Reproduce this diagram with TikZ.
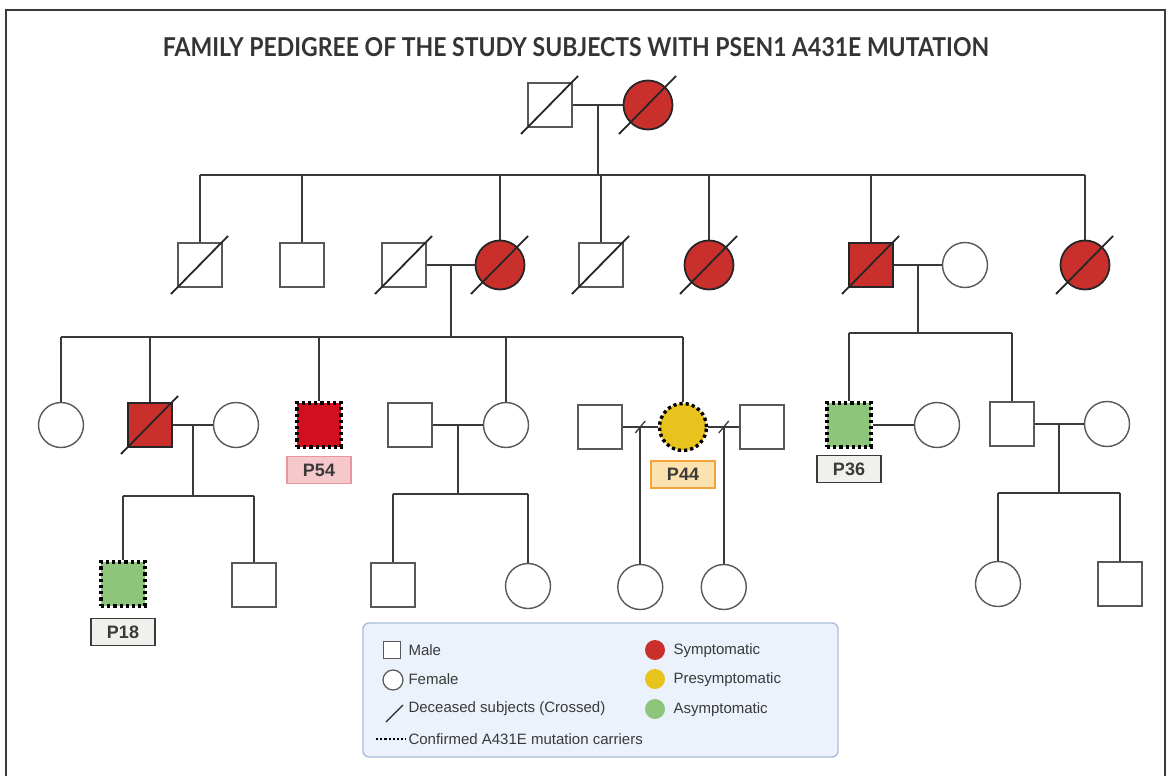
\documentclass[tikz,border=0pt]{standalone}
\usepackage{fontspec}
\setmainfont{Liberation Sans}
\newfontfamily\titlefont{Lato}
\usepackage{graphicx}
\usetikzlibrary{positioning,calc}

\definecolor{symred}{HTML}{C9302C}
\definecolor{carred}{HTML}{D20F1F}
\definecolor{preyel}{HTML}{E9C31D}
\definecolor{asygrn}{HTML}{8DC57A}
\definecolor{inkgray}{HTML}{3A3A3A}
\definecolor{legbg}{HTML}{EBF2FB}
\definecolor{legbd}{HTML}{A7BDDB}
\definecolor{pinkbg}{HTML}{F6C8CB}
\definecolor{pinkbd}{HTML}{E8959C}
\definecolor{ambbg}{HTML}{FBE2AE}
\definecolor{ambbd}{HTML}{F0A43A}
\definecolor{graybg}{HTML}{F0F0EC}

\tikzset{
  male/.style={rectangle, draw=inkgray!85, line width=1.4pt, fill=white, minimum size=44pt, inner sep=0pt},
  female/.style={circle, draw=inkgray!85, line width=1.4pt, fill=white, minimum size=45pt, inner sep=0pt},
  affected/.style={fill=symred, draw=black!85, line width=1.8pt},
  femaff/.style={female, affected, minimum size=49pt},
  carrier/.style={draw=black, line width=3.4pt, dash pattern=on 3.2pt off 3pt},
  kin/.style={draw=inkgray, line width=1.8pt},
  slashline/.style={draw=black!85, line width=1.8pt},
  idtag/.style={font=\bfseries\fontsize{18}{18}\selectfont, text=inkgray, minimum width=64pt, minimum height=27pt, inner sep=0pt, line width=1.6pt},
  legtext/.style={font=\fontsize{15}{15}\selectfont, text=inkgray, anchor=west},
  legdot/.style={circle, minimum size=20pt, inner sep=0pt},
}

\begin{document}
\begin{tikzpicture}[x=1pt,y=-1pt]
\useasboundingbox (0,0) rectangle (1170,776);
\draw[line width=1.6pt, inkgray] (6,790) |- (1165,10) -- (1165,790);
\node[text=inkgray!90!black, inner sep=0pt] (title) at (576,47)
  {\resizebox{826pt}{19pt}{\titlefont\bfseries FAMILY PEDIGREE OF THE STUDY SUBJECTS WITH PSEN1 A431E MUTATION}};

% generation I
\node[male] (I1) at (550,105) {};
\node[femaff] (I2) at (648,105) {};

% generation II
\node[male] (II1) at (200,265) {};
\node[male] (II2) at (302,265) {};
\node[male] (II3) at (404,265) {};
\node[femaff] (II4) at (500,265) {};
\node[male] (II5) at (601,265) {};
\node[femaff] (II6) at (709,265) {};
\node[male,affected] (II7) at (871,265) {};
\node[female] (II8) at (965,265) {};
\node[femaff] (II9) at (1085,265) {};

% generation III
\node[female] (III1) at (61,425) {};
\node[male,affected] (III2) at (150,425) {};
\node[female] (III3) at (236,425) {};
\node[male,carrier,fill=carred] (III4) at (319,425) {};
\node[male] (III5) at (410,425) {};
\node[female] (III6) at (506,425) {};
\node[male] (III7) at (600,427) {};
\node[female,carrier,fill=preyel,minimum size=47pt] (III8) at (683,427) {};
\node[male] (III9) at (762,427) {};
\node[male,carrier,fill=asygrn] (III10) at (849,425) {};
\node[female] (III11) at (937,425) {};
\node[male] (III12) at (1012,424) {};
\node[female] (III13) at (1107,424) {};

% generation IV
\node[male,carrier,fill=asygrn] (IV1) at (123,584) {};
\node[male] (IV2) at (254,585) {};
\node[male] (IV3) at (393,585) {};
\node[female] (IV4) at (528,586) {};
\coordinate (dv1) at ($(III7.east)!0.5!(III8.west)$);
\coordinate (dv2) at ($(III8.east)!0.5!(III9.west)$);
\node[female] (IV5) at (dv1 |- 0,587) {};
\node[female] (IV6) at (dv2 |- 0,587) {};
\node[female] (IV7) at (998,584) {};
\node[male] (IV8) at (1120,584) {};

% study subject tags
\node[idtag, fill=pinkbg, draw=pinkbd, below=7pt of III4] (p54) {P54};
\node[idtag, fill=ambbg, draw=ambbd, below=8pt of III8] (p44) {P44};
\node[idtag, fill=graybg, draw=inkgray, below=6pt of III10] (p36) {P36};
\node[idtag, fill=graybg, draw=inkgray, below=10pt of IV1] (p18) {P18};

% couples
\foreach \a/\b in {I1/I2, II3/II4, II7/II8, III2/III3, III5/III6, III7/III8, III8/III9, III10/III11, III12/III13}
  \draw[kin] (\a) -- (\b);
\coordinate (mI) at ($(I1.east)!0.5!(I2.west)$);
\coordinate (mII) at ($(II3.east)!0.5!(II4.west)$);
\coordinate (mIIb) at ($(II7.east)!0.5!(II8.west)$);
\coordinate (mIII) at ($(III2.east)!0.5!(III3.west)$);
\coordinate (mIIIb) at ($(III5.east)!0.5!(III6.west)$);
\coordinate (mIIIc) at ($(III12.east)!0.5!(III13.west)$);

% sibships
\draw[kin] (mI) -- (mI |- 0,175);
\draw[kin] (II1 |- 0,175) -- (II9 |- 0,175);
\foreach \n in {II1,II2,II4,II5,II6,II7,II9}
  \draw[kin] (\n |- 0,175) -- (\n);
\draw[kin] (mII) -- (mII |- 0,337);
\draw[kin] (III1 |- 0,337) -- (III8 |- 0,337);
\foreach \n in {III1,III2,III4,III6,III8}
  \draw[kin] (\n |- 0,337) -- (\n);
\draw[kin] (mIIb) -- (mIIb |- 0,333);
\draw[kin] (III10 |- 0,333) -- (III12 |- 0,333);
\foreach \n in {III10,III12}
  \draw[kin] (\n |- 0,333) -- (\n);
\draw[kin] (mIII) -- (mIII |- 0,496);
\draw[kin] (IV1 |- 0,496) -- (IV2 |- 0,496);
\foreach \n in {IV1,IV2}
  \draw[kin] (\n |- 0,496) -- (\n);
\draw[kin] (mIIIb) -- (mIIIb |- 0,494);
\draw[kin] (IV3 |- 0,494) -- (IV4 |- 0,494);
\foreach \n in {IV3,IV4}
  \draw[kin] (\n |- 0,494) -- (\n);
\draw[kin] (mIIIc) -- (mIIIc |- 0,493);
\draw[kin] (IV7 |- 0,493) -- (IV8 |- 0,493);
\foreach \n in {IV7,IV8}
  \draw[kin] (\n |- 0,493) -- (\n);
\draw[kin] (dv1) -- (IV5);
\draw[kin] (dv2) -- (IV6);
\foreach \d in {dv1,dv2}
  \draw[kin, line width=1.3pt] ($(\d)+(-5,6)$) -- ($(\d)+(5,-6)$);

% deceased
\foreach \n in {I1,I2,II1,II3,II4,II5,II6,II7,II9,III2}
  \draw[slashline] ($(\n.center)+(-29,29)$) -- ($(\n.center)+(28,-29)$);

% legend
\node[draw=legbd, fill=legbg, line width=1.4pt, rounded corners=6pt, minimum width=475pt, minimum height=134pt] (legend) at (600.5,690) {};
\node[male, minimum size=17pt, line width=1.2pt] (kmale) at (392,650) {};
\node[female, minimum size=20pt, line width=1.2pt] (kfemale) at (393,680) {};
\draw[slashline, line width=1.2pt] (386,722) -- (403,705);
\draw[black, line width=2.4pt, dash pattern=on 2.2pt off 2pt] (376,739) -- (406,739);
\node[legtext] at (405,650) {Male};
\node[legtext] at (405,679) {Female};
\node[legtext] at (405,709) {Deceased subjects (Crossed)};
\node[legtext] at (405,739) {Confirmed A431E mutation carriers};
\node[legdot, fill=symred] (ksym) at (655,650) {};
\node[legdot, fill=preyel] (kpre) at (655,679) {};
\node[legdot, fill=asygrn] (kasy) at (655,709) {};
\node[legtext] at (670,651) {Symptomatic};
\node[legtext] at (670,680) {Presymptomatic};
\node[legtext] at (670,710) {Asymptomatic};
\end{tikzpicture}
\end{document}
